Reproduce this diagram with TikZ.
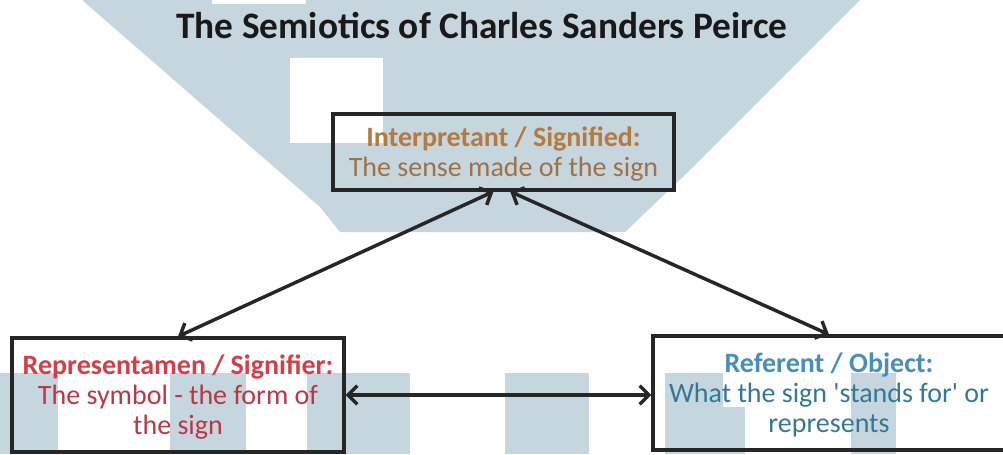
\documentclass[tikz,border=0pt]{standalone}
\usepackage{fontspec}
\setmainfont{Carlito}
\usetikzlibrary{arrows.meta}

\definecolor{wmark}{RGB}{197,214,222}
\definecolor{interpA}{RGB}{180,122,62}
\definecolor{interpB}{RGB}{160,112,70}
\definecolor{reprA}{RGB}{212,62,72}
\definecolor{reprB}{RGB}{186,56,70}
\definecolor{refA}{RGB}{72,142,186}
\definecolor{refB}{RGB}{52,120,150}

\begin{document}
\begin{tikzpicture}[
        x=0.75pt, y=-0.75pt,
        % Styles
        signbox/.style={rectangle, draw=black!85, line width=2.3pt, align=center, inner sep=0pt, text depth=0pt, font=\fontsize{21}{22.5}\selectfont},
        title/.style={font=\fontsize{28}{32}\selectfont\bfseries, text=black!90},
        link/.style={draw=black!85, line width=2.6pt, {Straight Barb[length=7pt,width=14pt]}-{Straight Barb[length=7pt,width=14pt]}}
    ]
    \useasboundingbox (0,0) rectangle (1003,454);

    % ================= WATERMARK =================
    \fill[wmark] (82,0) -- (320,207) -- (340,232) -- (625,232) -- (687,173) -- (860,0) -- cycle;
    \fill[white] (290,58) rectangle (383,143);
    \fill[white] (212,0) rectangle (306,4);
    \foreach \xa/\xb in {0/58, 170/246, 307/410, 505/589, 665/723, 851/896} {
        \fill[wmark] (\xa,373) rectangle (\xb,454);
    }
    \fill[wmark] (723,407) rectangle (745,454);

    % ================= TITLE =================
    \node[title, anchor=base] (heading) at (482,38) {The Semiotics of Charles Sanders Peirce};

    % ================= SIGN BOXES =================
    \node[signbox, minimum width=255.75pt, minimum height=57pt] (interp) at (503.5,152)
        {{\color{interpA}\textbf{Interpretant / Signified:}}\\{\color{interpB}The sense made of the sign}};

    \node[signbox, minimum width=249pt, minimum height=85.5pt] (repr) at (178,395)
        {{\color{reprA}\textbf{Representamen / Signifier:}}\\{\color{reprB}The symbol - the form of}\\{\color{reprB}the sign}};

    \node[signbox, minimum width=264pt, minimum height=85.5pt] (refer) at (829,393)
        {{\color{refA}\textbf{Referent / Object:}}\\{\color{refB}What the sign \textquotesingle stands for\textquotesingle{} or}\\{\color{refB}represents}};

    % ================= CONNECTIONS =================
    \draw[link] ([xshift=-7.5pt]interp.south) -- (repr.north);
    \draw[link] ([xshift=5pt]interp.south) -- (refer.north);
    \draw[link] (repr.east) -- (repr.east -| refer.west);

\end{tikzpicture}
\end{document}
